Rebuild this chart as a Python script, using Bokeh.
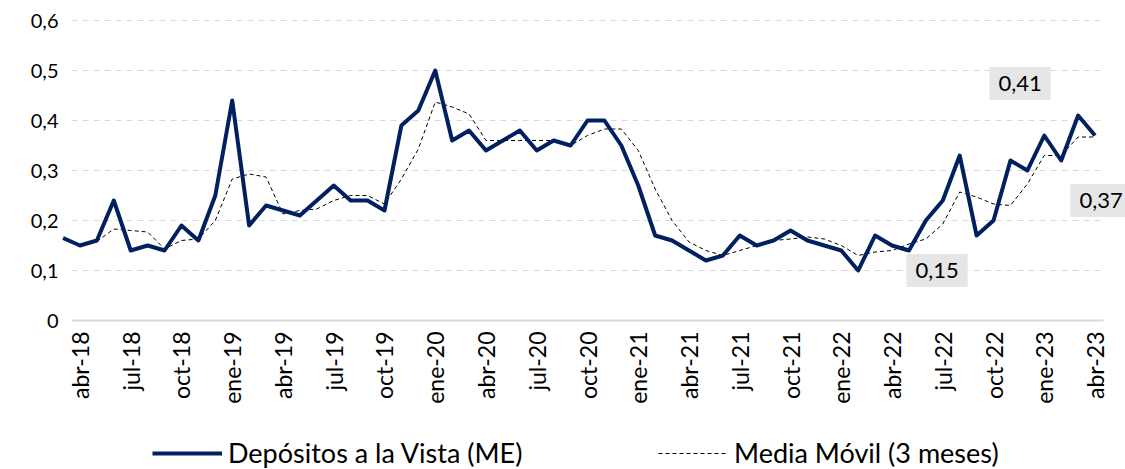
import math
from bokeh.plotting import figure
from bokeh.models import (ColumnDataSource, Range1d, FixedTicker, CustomJSTickFormatter,
                          Label, Legend, LegendItem)
from bokeh.embed import file_html
from bokeh.resources import INLINE

# ---- data -------------------------------------------------------------
meses = ["ene", "feb", "mar", "abr", "may", "jun", "jul", "ago", "sep", "oct", "nov", "dic"]
# months from mar-18 (partly outside the visible axis) to abr-23
months = [f"{meses[(2 + k) % 12]}-{18 + (2 + k) // 12}" for k in range(62)]

depositos = [0.165,
             0.15, 0.16, 0.24, 0.14, 0.15, 0.14, 0.19, 0.16, 0.25, 0.44, 0.19, 0.23,
             0.22, 0.21, 0.24, 0.27, 0.24, 0.24, 0.22, 0.39, 0.42, 0.50, 0.36, 0.38,
             0.34, 0.36, 0.38, 0.34, 0.36, 0.35, 0.40, 0.40, 0.35, 0.27, 0.17, 0.16,
             0.14, 0.12, 0.13, 0.17, 0.15, 0.16, 0.18, 0.16, 0.15, 0.14, 0.10, 0.17,
             0.15, 0.14, 0.20, 0.24, 0.33, 0.17, 0.20, 0.32, 0.30, 0.37, 0.32, 0.41,
             0.37]

nan = float("nan")
media_movil = [nan, nan,
               0.158, 0.183, 0.180, 0.177, 0.143, 0.160, 0.163, 0.200, 0.283, 0.293,
               0.287, 0.213, 0.220, 0.223, 0.240, 0.250, 0.250, 0.233, 0.283, 0.343,
               0.437, 0.427, 0.413, 0.360, 0.360, 0.360, 0.360, 0.360, 0.350, 0.370,
               0.383, 0.383, 0.340, 0.263, 0.200, 0.157, 0.140, 0.130, 0.140, 0.150,
               0.160, 0.163, 0.167, 0.163, 0.150, 0.130, 0.137, 0.140, 0.153, 0.163,
               0.193, 0.257, 0.247, 0.233, 0.230, 0.273, 0.330, 0.330, 0.367, 0.367]

tick_months = ["abr-18", "jul-18", "oct-18", "ene-19", "abr-19", "jul-19", "oct-19",
               "ene-20", "abr-20", "jul-20", "oct-20", "ene-21", "abr-21", "jul-21",
               "oct-21", "ene-22", "abr-22", "jul-22", "oct-22", "ene-23", "abr-23"]
y_ticks = [0, 0.1, 0.2, 0.3, 0.4, 0.5, 0.6]

label_months = ["abr-22", "mar-23", "abr-23"]

assert len(depositos) == len(months) == len(media_movil)

# position index: abr-18 -> 0
xs = [months.index(m) - 1 for m in months]
src = ColumnDataSource(dict(x=xs, dep=depositos, mm=media_movil))

# ---- layout (pixels) --------------------------------------------------
W, H = 1125, 469
AX_L, AX_R = 71, 1103        # pixel extent of the category axis
AX_TOP, AX_BOT = 20, 320     # pixel positions of 0.6 and 0
x_lo, x_hi = xs[1] - 0.5, xs[-1] + 0.5
y_lo, y_hi = y_ticks[0], y_ticks[-1]
ux = (x_hi - x_lo) / (AX_R - AX_L)
uy = (y_hi - y_lo) / (AX_BOT - AX_TOP)

FONT = "Lato"
p = figure(width=W, height=H, output_backend="svg", toolbar_location=None,
           x_range=Range1d(x_lo - AX_L * ux, x_hi + (W - AX_R) * ux),
           y_range=Range1d(y_lo - (H - AX_BOT) * uy, y_hi + AX_TOP * uy),
           min_border=0, min_border_left=0, min_border_right=0,
           min_border_top=0, min_border_bottom=0)
p.outline_line_color = None
p.background_fill_color = "white"
p.border_fill_color = "white"
p.xgrid.grid_line_color = None
p.ygrid.grid_line_color = None

# horizontal dashed gridlines limited to the plot area
grid_y = y_ticks[1:]
r_grid = p.segment(x0=[x_lo] * len(grid_y), x1=[x_hi] * len(grid_y),
                   y0=grid_y, y1=grid_y, line_color="#D9D9D9", line_width=1,
                   line_dash="6 5")

r_mm = p.line("x", "mm", source=src, line_color="#000000", line_width=1,
              line_dash="4 3")
r_dep = p.line("x", "dep", source=src, line_color="#002060", line_width=4,
               line_join="round")

# y axis
p.yaxis.fixed_location = x_lo
p.yaxis.ticker = FixedTicker(ticks=y_ticks)
p.yaxis.bounds = (y_lo, y_hi)
p.yaxis.formatter = CustomJSTickFormatter(
    code="return tick == 0 ? '0' : tick.toFixed(1).replace('.', ',');")
p.yaxis.axis_line_color = None
p.yaxis.major_tick_line_color = None
p.yaxis.minor_tick_line_color = None
p.yaxis.major_tick_out = 0
p.yaxis.major_label_standoff = 13
p.yaxis.major_label_text_font = FONT
p.yaxis.major_label_text_font_size = "20px"
p.yaxis.major_label_text_color = "#000000"

# x axis
tick_pos = [months.index(m) - 1 for m in tick_months]
p.xaxis.fixed_location = y_lo
p.xaxis.bounds = (x_lo, x_hi)
p.xaxis.ticker = FixedTicker(ticks=tick_pos)
p.xaxis.major_label_overrides = {t: m for t, m in zip(tick_pos, tick_months)}
p.xaxis.major_label_orientation = math.pi / 2
p.xaxis.axis_line_color = "#D9D9D9"
p.xaxis.axis_line_width = 2
p.xaxis.major_tick_line_color = None
p.xaxis.minor_tick_line_color = None
p.xaxis.major_tick_out = 0
p.xaxis.major_label_standoff = 11
p.xaxis.major_label_text_font = FONT
p.xaxis.major_label_text_font_size = "23px"
p.xaxis.major_label_text_color = "#000000"

# data labels
label_offsets = [(45, -25), (-58, 32), (6, -65)]
for m, (dx, dy) in zip(label_months, label_offsets):
    k = months.index(m)
    v = depositos[k]
    p.add_layout(Label(x=xs[k], y=v, x_offset=dx, y_offset=dy,
                       text=f"{v:.2f}".replace(".", ","),
                       text_align="center", text_baseline="middle",
                       text_font=FONT, text_font_size="22px", text_color="#000000",
                       background_fill_color="#E6E6E6", padding=9))

# legends
leg1 = Legend(items=[LegendItem(label="Depósitos a la Vista (ME)", renderers=[r_dep])],
              location=(152, 0), orientation="horizontal")
leg2 = Legend(items=[LegendItem(label="Media Móvil (3 meses)", renderers=[r_mm])],
              location=(658, 0), orientation="horizontal")
for lg in (leg1, leg2):
    lg.glyph_width = 70
    lg.glyph_height = 20
    lg.label_standoff = 6
    lg.padding = 0
    lg.margin = 0
    lg.border_line_color = None
    lg.background_fill_alpha = 0
    lg.label_text_font = FONT
    lg.label_text_font_size = "27px"
    lg.label_text_color = "#000000"
    p.add_layout(lg, "center")

open("out.html", "w").write(file_html(p, INLINE))
